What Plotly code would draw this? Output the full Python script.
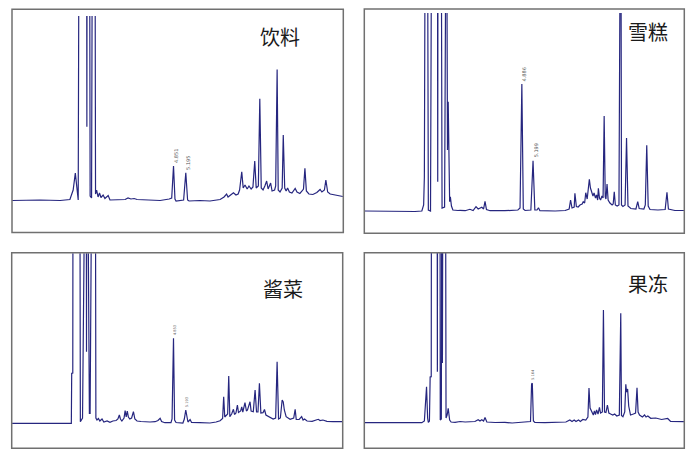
import plotly.graph_objects as go

# ---------------- data (retention time in min, detector signal in mAU) ----------------
panel_names = ["饮料", "雪糕", "酱菜", "果冻"]

drink_t = [0.38,1.15,1.71,1.98,2.07,2.13,2.18,2.21,2.24,2.44,2.45,2.46,2.52,2.54,2.58,2.61,2.67,2.69,2.72,2.76,
           2.80,2.84,2.90,2.95,3.04,3.09,3.51,3.59,3.67,3.76,3.84,4.20,4.48,4.73,4.80,4.85,4.89,4.92,5.13,5.19,
           5.24,5.28,5.58,5.86,6.14,6.25,6.32,6.36,6.51,6.58,6.64,6.68,6.74,6.78,6.83,6.89,6.94,7.00,7.05,7.10,
           7.14,7.20,7.24,7.28,7.33,7.38,7.43,7.47,7.54,7.58,7.65,7.68,7.72,7.75,7.80,7.86,7.89,7.93,7.97,8.01,
           8.06,8.13,8.22,8.27,8.35,8.41,8.45,8.49,8.53,8.60,8.71,8.82,8.91,8.96,9.03,9.07,9.12,9.19,9.35,9.54]
drink_s = [-0.5,0,-0.5,0.5,10,27,10,0,400,400,73.3,400,400,4,2,400,400,6,10,3,
           7,2.5,5,1.5,4.5,0,0.5,2,1,1.5,0.5,0,-0.5,1,2,34,1,-1,0,27.3,
           0,-1,-0.5,-1,0.5,3,6,3,7.3,5,6,10,28.3,12,15,11,14,11,13,39,
           12,14,101.3,12,10,14,19,11,17,9,10,14,130.5,10,8,12,65,12,9,12,
           8,7,11.5,8,6.5,9,11,31.7,9,6,5.5,7.5,10.5,8,10,20,8,6,5,3.5]

icecream_t = [0.53,1.24,1.93,2.12,2.17,2.19,2.22,2.27,2.30,2.36,2.40,2.55,2.56,2.57,2.65,2.68,2.75,2.78,2.80,2.83,
              2.85,2.89,2.91,2.94,2.98,3.12,3.18,3.32,3.45,3.54,3.62,3.68,3.78,3.83,3.87,3.91,4.01,4.42,4.78,4.84,
              4.89,4.93,4.98,5.14,5.20,5.25,5.31,5.35,5.39,5.81,6.09,6.20,6.24,6.28,6.34,6.36,6.40,6.45,6.50,6.56,
              6.59,6.63,6.66,6.70,6.72,6.76,6.79,6.83,6.86,6.89,6.93,6.96,6.99,7.01,7.04,7.07,7.11,7.14,7.17,7.20,
              7.22,7.25,7.28,7.33,7.39,7.42,7.45,7.48,7.53,7.58,7.61,7.63,7.65,7.69,7.75,7.79,7.83,7.91,8.05,8.10,
              8.14,8.27,8.31,8.35,8.39,8.44,8.66,8.86,8.91,8.95,9.13,9.38]
icecream_s = [0,-0.5,-0.5,0,6,34.3,400,400,1,0,400,400,29.3,400,400,3,4,400,400,61,
              109.3,9.3,14.3,5,1,0.5,0.7,0.3,1.7,0.5,4.3,2,3.7,2,9.7,1.5,0.3,0.3,1,3,
              127,2,0.5,1,50.3,1,1,3.3,0.3,0,0.5,2,11,3,4,17.7,4.5,4,6,7,
              9.3,8,18.3,12,21,31.7,23,19.3,15,18,13,16,11,22.7,13,11,15,13,95,14,
              12,27,11,8,6,7,19.3,6,5,6,400,400,6,4.5,6,73,5,2.5,2,9.3,
              2.5,2,6,65.7,5,1.5,1,1.5,18.7,2,0.5,0.5]

pickle_t = [0.38,2.02,2.03,2.06,2.07,2.25,2.27,2.33,2.43,2.44,2.45,2.52,2.54,2.61,2.68,2.70,2.73,2.77,2.81,2.87,
            2.92,3.01,3.09,3.17,3.26,3.31,3.35,3.38,3.42,3.48,3.51,3.54,3.57,3.60,3.64,3.69,3.74,3.78,3.84,3.95,
            4.06,4.20,4.34,4.42,4.48,4.52,4.61,4.78,4.81,4.85,4.88,4.92,5.11,5.15,5.19,5.22,5.25,5.31,5.35,5.58,
            5.86,6.03,6.14,6.21,6.24,6.27,6.30,6.35,6.38,6.41,6.46,6.51,6.54,6.58,6.62,6.65,6.71,6.74,6.77,6.83,
            6.87,6.90,6.97,7.00,7.06,7.11,7.15,7.19,7.23,7.27,7.33,7.37,7.41,7.48,7.54,7.61,7.68,7.72,7.76,7.81,
            7.86,7.89,7.92,7.97,8.08,8.18,8.22,8.25,8.33,8.40,8.44,8.48,8.55,8.69,8.86,8.91,8.99,9.10,9.27,9.53]
pickle_s = [0,0,50,50.3,400,400,1.6,5.3,400,71.6,400,10,10,400,400,5.3,3.3,4.8,2.3,4.3,
            1.3,2.3,1,2.3,2.8,4.3,8.3,4.3,2.3,5.3,12.6,6.3,12.3,6.3,4.3,5.3,11.6,4.3,2.3,1.8,
            1.3,1.3,1.6,2.8,5,1.8,0.6,0.6,4.3,85,3.3,0.8,0.3,4.3,13.3,4.3,1.3,3.8,0.8,0.6,
            0.3,1.3,2.6,4.8,26.6,6.3,7.8,9.3,47.3,6.6,9.3,14,8.8,10.3,18.3,10.8,12.3,16.3,11.3,20.6,
            12.3,13.3,21.6,12.3,11.6,33.3,11.3,11.3,40,10.3,10.6,13.8,8.3,6.8,5,4.3,5.3,61.6,4.3,5.3,
            23.3,21.3,13.3,6.6,4,5.3,14,3.8,3.8,6.6,3.3,4.3,2.3,2,4,2.8,3.3,2,1.6,1.6]

jelly_t = [0.53,1.52,2.12,2.19,2.23,2.25,2.28,2.30,2.33,2.35,2.38,2.39,2.54,2.55,2.56,2.62,2.63,2.66,2.68,2.69,
           2.71,2.77,2.79,2.82,2.85,2.89,2.93,3.04,3.18,3.32,3.45,3.59,3.68,3.73,3.78,3.83,3.87,3.92,4.15,4.42,
           4.62,4.84,5.13,5.16,5.18,5.21,5.25,5.53,5.81,6.11,6.22,6.28,6.34,6.39,6.46,6.51,6.58,6.66,6.72,6.75,
           6.78,6.82,6.87,6.90,6.93,6.96,7.00,7.04,7.07,7.12,7.15,7.18,7.22,7.26,7.30,7.35,7.41,7.46,7.52,7.59,
           7.63,7.65,7.69,7.74,7.77,7.79,7.82,7.85,7.90,7.98,8.04,8.08,8.11,8.15,8.23,8.29,8.33,8.38,8.46,8.60,
           8.76,8.93,9.01,9.38]
jelly_s = [0,0,0,1.7,32.7,36,4.7,0.2,1.7,45.7,46,400,400,51,400,400,2.7,3.7,400,59.7,
           400,400,4.7,7.7,14.4,2.7,0.7,0.4,1.2,0.7,1.2,1.2,3,1.7,3,1.7,5.2,0.7,0.2,0.4,
           -0.3,0.2,1.2,38.7,39.4,1.7,0.2,0,0.2,0.7,2.7,1.2,2.7,1.2,2.7,1.2,3.2,2.7,5.7,34.7,
           14.7,10.7,7.7,11.7,8.2,12.7,8.7,15.4,9.7,10.7,112.7,10.7,10.2,17.7,9.7,8.7,7.7,8.7,6.7,7.7,
           109.4,7.2,6,10.7,38.4,30.7,33.7,16.7,7.7,8.7,9.7,35,10.7,7.7,5.7,7.7,5.7,6.7,4.4,4.7,
           3.2,4.2,1.2,1]

# labelled peaks: (retention time, apex signal, label)
drink_peak_t = [4.85, 5.19]
drink_peak_s = [34, 27.3]
drink_peak_lbl = ["4.851", "5.195"]
icecream_peak_t = [4.89, 5.20]
icecream_peak_s = [127, 50.3]
icecream_peak_lbl = ["4.886", "5.199"]
pickle_peak_t = [4.85, 5.19]
pickle_peak_s = [85, 13.3]
pickle_peak_lbl = ["4.853", "5.193"]
jelly_peak_t = [5.17]
jelly_peak_s = [39.4]
jelly_peak_lbl = ["5.164"]

series = [
    (drink_t, drink_s, drink_peak_t, drink_peak_s, drink_peak_lbl),
    (icecream_t, icecream_s, icecream_peak_t, icecream_peak_s, icecream_peak_lbl),
    (pickle_t, pickle_s, pickle_peak_t, pickle_peak_s, pickle_peak_lbl),
    (jelly_t, jelly_s, jelly_peak_t, jelly_peak_s, jelly_peak_lbl),
]
for t, s, *_ in series:
    assert len(t) == len(s), (len(t), len(s))

# ---------------- layout (pixel geometry of the 700x462 canvas) ----------------
W, H = 700, 462
def fx(p): return p / W
def fy(p): return 1 - p / H

# plot (clip) areas: (x0, x1, y_top, y_bottom) in px; axis ranges; label size, label shift
areas = [
    (12.0, 343.3, 16.0, 232.0, [0.376, 9.553], [-32, 184], 5.0, 2.4),
    (364.3, 684.3, 13.0, 233.3, [0.526, 9.390], [-22.3, 198], 5.0, 2.6),
    (11.7, 342.7, 253.3, 448.3, [0.368, 9.537], [-25, 170], 3.6, 1.4),
    (364.3, 684.3, 252.7, 448.3, [0.526, 9.390], [-25.6, 170], 3.6, 1.2),
]
frames = [
    (12.0, 9.3, 343.3, 232.5),
    (364.3, 9.0, 684.3, 233.3),
    (11.7, 252.7, 342.7, 448.3),
    (364.3, 252.7, 684.3, 448.3),
]
name_pos = [(280, 36), (648, 32), (283, 288), (648, 283)]

fig = go.Figure()
annotations = []
shapes = []
layout_axes = {}
for i, ((t, s, pt, ps, pl), area) in enumerate(zip(series, areas)):
    n = "" if i == 0 else str(i + 1)
    x0, x1, ytop, ybot, xr, yr, lsize, lshift = area
    fig.add_trace(go.Scatter(x=t, y=s, mode="lines",
                             line=dict(color="#26267f", width=1.2),
                             xaxis="x" + n, yaxis="y" + n, showlegend=False,
                             hoverinfo="skip"))
    layout_axes["xaxis" + n] = dict(domain=[fx(x0), fx(x1)], range=xr, visible=False,
                                    anchor="y" + n, fixedrange=True)
    layout_axes["yaxis" + n] = dict(domain=[fy(ybot), fy(ytop)], range=yr, visible=False,
                                    anchor="x" + n, fixedrange=True)
    for xx, yy, lab in zip(pt, ps, pl):
        annotations.append(dict(x=xx, y=yy, xref="x" + n, yref="y" + n, text=lab,
                                showarrow=False, textangle=-90,
                                font=dict(size=lsize, color="#555555", family="DejaVu Sans"),
                                xanchor="center", yanchor="bottom", xshift=lshift, yshift=1))
    cx, cy = name_pos[i]
    annotations.append(dict(x=fx(cx), y=fy(cy), xref="paper", yref="paper",
                            text=panel_names[i], showarrow=False,
                            font=dict(size=20, color="#1a1a1a", family="Noto Sans CJK SC"),
                            xanchor="center", yanchor="middle"))
    fx0, fy0, fx1, fy1 = frames[i]
    shapes.append(dict(type="rect", xref="paper", yref="paper",
                       x0=fx(fx0), x1=fx(fx1), y0=fy(fy1), y1=fy(fy0),
                       line=dict(color="#707070", width=1.5), fillcolor="rgba(0,0,0,0)"))

fig.update_layout(
    width=W, height=H,
    margin=dict(l=0, r=0, t=0, b=0),
    paper_bgcolor="white", plot_bgcolor="rgba(0,0,0,0)",
    annotations=annotations, shapes=shapes,
    **layout_axes,
)
fig.write_html("out.html", config={"displayModeBar": False},
               post_script="document.body.style.margin='0';")
